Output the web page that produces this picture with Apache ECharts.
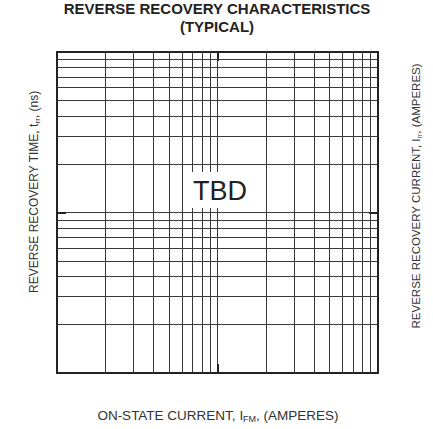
<!DOCTYPE html>
<html>
<head>
<meta charset="utf-8">
<script src="https://cdn.jsdelivr.net/npm/echarts@6/dist/echarts.min.js"></script>
<style>
html, body { margin: 0; padding: 0; background: #fff; overflow: hidden; }
#chart { width: 433px; height: 429px; }
</style>
</head>
<body>
<div id="chart"></div>
<script>
// log-log grid, two decades each way, no curves yet (TBD)
var xRange = [1, 100];
var yRange = [1, 100];
var xMinorLines = [2, 3, 4, 5, 6, 7, 8, 9, 20, 30, 40, 50, 60, 70, 80, 90];
var yMinorLines = [2, 3, 4, 5, 6, 7, 8, 9, 20, 30, 40, 50, 60, 70, 80, 90];
var titleLines = ['REVERSE RECOVERY CHARACTERISTICS', '(TYPICAL)'];
var xName = 'ON-STATE CURRENT, I{sub|FM}, (AMPERES)';
var yLeftName = 'REVERSE RECOVERY TIME, t{sub|rr}, (ns)';
var yRightName = 'REVERSE RECOVERY CURRENT, I{sub|rr}, (AMPERES)';
var noteText = 'TBD';

function drawRecoveryChart(div_id){
    var myChart = echarts.init(document.getElementById(div_id), null, { renderer: 'svg' });
    var font = "Liberation Sans, Arial, Helvetica, sans-serif";
    var lineColor = '#3a3a3a';
    var frame = { show: true, lineStyle: { color: '#222', width: 2 } };
    var tick = { show: true, inside: true, length: 9, lineStyle: { color: '#222', width: 2 } };

    var gridLines = [];
    xMinorLines.forEach(function (v) { gridLines.push({ xAxis: v }); });
    yMinorLines.forEach(function (v) { gridLines.push({ yAxis: v }); });

    function label(text, x, y, size, rot) {
        return {
            type: 'text',
            x: x,
            y: y,
            rotation: rot || 0,
            z: 100,
            style: {
                text: text,
                fontFamily: font,
                fontSize: size,
                fill: '#333',
                align: 'center',
                verticalAlign: 'middle',
                rich: {
                    sub: { fontFamily: font, fontSize: Math.round(size * 0.65), fill: '#333', padding: [7, 0, 0, 0] }
                }
            }
        };
    }

    myChart.setOption({
        animation: false,
        grid: { left: 57, right: 55, top: 52, bottom: 56 },
        xAxis: [
            {
                type: 'log', logBase: 10, min: xRange[0], max: xRange[1], position: 'bottom',
                axisLine: frame, axisTick: tick, axisLabel: { show: false },
                splitLine: { show: true, lineStyle: { color: lineColor, width: 1 } }
            },
            {
                type: 'log', logBase: 10, min: xRange[0], max: xRange[1], position: 'top',
                axisLine: frame, axisTick: tick, axisLabel: { show: false }, splitLine: { show: false }
            }
        ],
        yAxis: [
            {
                type: 'log', logBase: 10, min: yRange[0], max: yRange[1], position: 'left',
                axisLine: frame, axisTick: tick, axisLabel: { show: false },
                splitLine: { show: true, lineStyle: { color: lineColor, width: 1 } }
            },
            {
                type: 'log', logBase: 10, min: yRange[0], max: yRange[1], position: 'right',
                axisLine: frame, axisTick: tick, axisLabel: { show: false }, splitLine: { show: false }
            }
        ],
        series: [
            {
                type: 'line',
                xAxisIndex: 0,
                yAxisIndex: 0,
                data: [],
                silent: true,
                markLine: {
                    silent: true,
                    symbol: ['none', 'none'],
                    label: { show: false },
                    lineStyle: { color: lineColor, width: 1, type: 'solid' },
                    emphasis: { disabled: true },
                    data: gridLines
                }
            }
        ],
        graphic: [
            {
                type: 'text', x: 217, y: 8.5,
                style: {
                    text: titleLines[0], fontFamily: font, fontSize: 15, fontWeight: 'bold', fill: '#222',
                    align: 'center', verticalAlign: 'middle'
                }
            },
            {
                type: 'text', x: 217, y: 26,
                style: {
                    text: titleLines[1], fontFamily: font, fontSize: 15, fontWeight: 'bold', fill: '#222',
                    align: 'center', verticalAlign: 'middle'
                }
            },
            label(xName, 218, 415, 13.5, 0),
            label(yLeftName, 34, 192, 12, Math.PI / 2),
            label(yRightName, 416, 196, 11.5, Math.PI / 2),
            {
                type: 'text', left: 186, top: 172, z: 100,
                style: {
                    text: noteText, fontFamily: font, fontSize: 27, fill: '#222',
                    backgroundColor: '#fff', padding: [5, 7, 4, 7]
                }
            }
        ]
    });
}

drawRecoveryChart('chart');
</script>
</body>
</html>
